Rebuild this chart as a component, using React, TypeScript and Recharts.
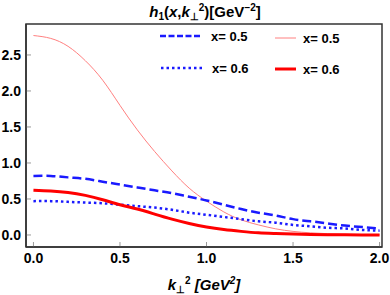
import { LineChart, Line, XAxis, YAxis } from "recharts";

// k_perp^2 grid (GeV^2)
const kSquared = [
  0, 0.1, 0.2, 0.3, 0.4, 0.5, 0.6, 0.7, 0.8, 0.9, 1.0, 1.1, 1.2, 1.3, 1.4, 1.5,
  1.6, 1.7, 1.8, 1.9, 2.0,
];

const dashedX05 = [
  0.82, 0.82, 0.8, 0.78, 0.74, 0.7, 0.66, 0.62, 0.58, 0.53, 0.48, 0.42, 0.36,
  0.31, 0.27, 0.22, 0.19, 0.16, 0.13, 0.11, 0.09,
];
const dottedX06 = [
  0.47, 0.47, 0.46, 0.45, 0.44, 0.42, 0.4, 0.38, 0.35, 0.31, 0.28, 0.25, 0.22,
  0.19, 0.17, 0.14, 0.12, 0.1, 0.09, 0.07, 0.06,
];
const thinRedX05 = [
  2.77, 2.73, 2.62, 2.42, 2.15, 1.8, 1.46, 1.16, 0.89, 0.65, 0.47, 0.32, 0.21,
  0.14, 0.085, 0.05, 0.03, 0.018, 0.01, 0.005, 0.002,
];
const thickRedX06 = [
  0.62, 0.61, 0.59, 0.55, 0.49, 0.42, 0.36, 0.29, 0.22, 0.16, 0.11, 0.075,
  0.05, 0.03, 0.02, 0.012, 0.007, 0.004, 0.002, 0.001, 0.0,
];

const xTicks = [0, 0.5, 1.0, 1.5, 2.0];
const yTicks = [0, 0.5, 1.0, 1.5, 2.0, 2.5];
const xMinor = [
  0.1, 0.2, 0.3, 0.4, 0.6, 0.7, 0.8, 0.9, 1.1, 1.2, 1.3, 1.4, 1.6, 1.7, 1.8,
  1.9,
];
const yMinor = [
  -0.1, 0.1, 0.2, 0.3, 0.4, 0.6, 0.7, 0.8, 0.9, 1.1, 1.2, 1.3, 1.4, 1.6, 1.7,
  1.8, 1.9, 2.1, 2.2, 2.3, 2.4, 2.6, 2.7, 2.8, 2.9,
];

const data = kSquared.map((k, i) => ({
  k,
  d05: dashedX05[i],
  d06: dottedX06[i],
  r05: thinRedX05[i],
  r06: thickRedX06[i],
}));

const xDomain = [-0.043, 2.014];
const yDomain = [-0.167, 2.93];

const FONT = "'Liberation Sans', Arial, sans-serif";
const FRAME = "#333";
const tickStyle = { fontSize: 14, fontWeight: 700, fill: "#000", fontFamily: FONT };

export default function App() {
  return (
    <div style={{ position: "absolute", left: 0, top: 0, width: 390, height: 295, background: "#fff" }}>
      <LineChart width={390} height={295} data={data} margin={{ top: 24, right: 8, bottom: 0, left: 0 }}>
        <XAxis
          xAxisId="b"
          dataKey="k"
          type="number"
          domain={xDomain}
          allowDataOverflow
          ticks={xTicks}
          tickFormatter={(v: number) => v.toFixed(1)}
          height={48}
          tickSize={-5}
          tickMargin={11}
          tick={tickStyle}
          axisLine={{ stroke: FRAME, strokeWidth: 1.5 }}
          tickLine={{ stroke: "#999" }}
        />
        <XAxis
          xAxisId="bm"
          dataKey="k"
          type="number"
          domain={xDomain}
          allowDataOverflow
          ticks={xMinor}
          height={0}
          tickSize={-3}
          tick={false}
          axisLine={false}
          tickLine={{ stroke: "#aaa" }}
        />
        <XAxis
          xAxisId="t"
          orientation="top"
          dataKey="k"
          type="number"
          domain={xDomain}
          allowDataOverflow
          ticks={xTicks}
          height={0}
          tickSize={-5}
          tick={false}
          axisLine={false}
          tickLine={{ stroke: "#999" }}
        />
        <XAxis
          xAxisId="tm"
          orientation="top"
          dataKey="k"
          type="number"
          domain={xDomain}
          allowDataOverflow
          ticks={xMinor}
          height={0}
          tickSize={-3}
          tick={false}
          axisLine={false}
          tickLine={{ stroke: "#aaa" }}
        />
        <YAxis
          yAxisId="l"
          type="number"
          domain={yDomain}
          allowDataOverflow
          ticks={yTicks}
          tickFormatter={(v: number) => v.toFixed(1)}
          width={26}
          tickSize={-5}
          tickMargin={10}
          tick={tickStyle}
          axisLine={{ stroke: FRAME, strokeWidth: 1.5 }}
          tickLine={{ stroke: "#999" }}
        />
        <YAxis
          yAxisId="lm"
          type="number"
          domain={yDomain}
          allowDataOverflow
          ticks={yMinor}
          width={0}
          tickSize={-3}
          tick={false}
          axisLine={false}
          tickLine={{ stroke: "#aaa" }}
        />
        <YAxis
          yAxisId="r"
          orientation="right"
          type="number"
          domain={yDomain}
          allowDataOverflow
          ticks={yTicks}
          width={0}
          tickSize={-5}
          tick={false}
          axisLine={false}
          tickLine={{ stroke: "#999" }}
        />
        <YAxis
          yAxisId="rm"
          orientation="right"
          type="number"
          domain={yDomain}
          allowDataOverflow
          ticks={yMinor}
          width={0}
          tickSize={-3}
          tick={false}
          axisLine={false}
          tickLine={{ stroke: "#aaa" }}
        />
        <Line xAxisId="b" yAxisId="l" type="natural" dataKey="r05" stroke="#ff8080" strokeWidth={1} dot={false} isAnimationActive={false} />
        <Line xAxisId="b" yAxisId="l" type="natural" dataKey="d05" stroke="#1a1aff" strokeWidth={2.5} strokeDasharray="9 4" dot={false} isAnimationActive={false} />
        <Line xAxisId="b" yAxisId="l" type="natural" dataKey="d06" stroke="#1a1aff" strokeWidth={2.5} strokeDasharray="2.5 3" dot={false} isAnimationActive={false} />
        <Line xAxisId="b" yAxisId="l" type="natural" dataKey="r06" stroke="#ff0000" strokeWidth={3} dot={false} isAnimationActive={false} />
      </LineChart>
      <svg width={390} height={295} style={{ position: "absolute", left: 0, top: 0, zIndex: 10 }}>
        {/* plot frame */}
        <rect x={26} y={24} width={356} height={223} fill="none" stroke={FRAME} strokeWidth={1.5} />
        <g fontFamily={FONT} fontWeight={700}>
          {/* title */}
          <text x={205} y={17} textAnchor="middle" fontSize={15}>
            <tspan fontStyle="italic">h</tspan>
            <tspan fontSize={10} dy={3}>1</tspan>
            <tspan dy={-3}>(</tspan>
            <tspan fontStyle="italic">x</tspan>
            <tspan>,</tspan>
            <tspan fontStyle="italic">k</tspan>
            <tspan fontSize={10} dy={3}>⊥</tspan>
            <tspan fontSize={10} dy={-9}>2</tspan>
            <tspan dy={6}>)[GeV</tspan>
            <tspan fontSize={10} dy={-6}>−2</tspan>
            <tspan dy={6}>]</tspan>
          </text>

          {/* legend */}
          <line x1={160} x2={202} y1={36} y2={36} stroke="#1a1aff" strokeWidth={2.5} strokeDasharray="6 2.5" />
          <text x={211} y={41} fontSize={13}>x= 0.5</text>
          <line x1={161} x2={203} y1={68} y2={68} stroke="#1a1aff" strokeWidth={2.5} strokeDasharray="2.5 3" />
          <text x={212} y={73} fontSize={13}>x= 0.6</text>
          <line x1={275} x2={296} y1={38} y2={38} stroke="#ff8080" strokeWidth={1} />
          <text x={303} y={43} fontSize={13}>x= 0.5</text>
          <line x1={275} x2={296} y1={69} y2={69} stroke="#ff0000" strokeWidth={3} />
          <text x={303} y={74} fontSize={13}>x= 0.6</text>

          {/* x axis label */}
          <text x={204} y={290} textAnchor="middle" fontSize={15}>
            <tspan fontStyle="italic">k</tspan>
            <tspan fontSize={10} dy={3}>⊥</tspan>
            <tspan fontSize={10} dy={-9}>2</tspan>
            <tspan dy={6} fontStyle="italic"> [GeV</tspan>
            <tspan fontSize={10} dy={-6} fontStyle="italic">2</tspan>
            <tspan dy={6} fontStyle="italic">]</tspan>
          </text>
        </g>
      </svg>
    </div>
  );
}
